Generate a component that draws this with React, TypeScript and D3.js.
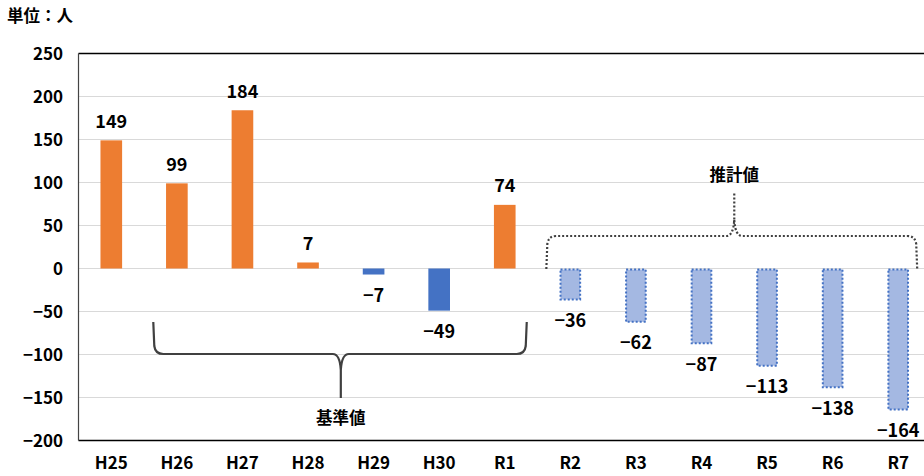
import React from "react";
import * as d3 from "d3";

const categories = ["H25", "H26", "H27", "H28", "H29", "H30", "R1", "R2", "R3", "R4", "R5", "R6", "R7"];
const values = [149, 99, 184, 7, -7, -49, 74, -36, -62, -87, -113, -138, -164];
const estimated = [false, false, false, false, false, false, false, true, true, true, true, true, true];
const yTicks = [250, 200, 150, 100, 50, 0, -50, -100, -150, -200];
const unitLabel = "単位：人";
const baseLabel = "基準値";
const estLabel = "推計値";

const W = 924;
const H = 476;
const FONT = "'Noto Sans CJK JP', 'Noto Sans', sans-serif";

const fmt = (v: number) => (v < 0 ? "\u2212" + Math.abs(v) : String(v));

function bracePath(x1: number, x2: number, yEnd: number, yBar: number, yTip: number, xc: number) {
  const dir = yTip > yBar ? 1 : -1;
  const r = 8 * dir;
  return [
    `M${x1},${yEnd}`,
    `L${x1 + 1},${yBar - r}`,
    `Q${x1 + 2},${yBar} ${x1 + 10},${yBar}`,
    `L${xc - 8},${yBar}`,
    `Q${xc - 1},${yBar} ${xc},${yBar + r * 2}`,
    `L${xc},${yTip}`,
    `M${xc},${yBar + r * 2}`,
    `Q${xc + 1},${yBar} ${xc + 8},${yBar}`,
    `L${x2 - 10},${yBar}`,
    `Q${x2 - 2},${yBar} ${x2 - 1},${yBar - r}`,
    `L${x2},${yEnd}`,
  ].join(" ");
}

export default function App() {
  const x = d3.scaleBand<string>().domain(categories).range([78.5, 931]).paddingInner(0.67).paddingOuter(0.335);
  const y = d3.scaleLinear().domain([-200, 250]).range([440.5, 53.5]);
  const bw = x.bandwidth();
  const cx = (c: string) => (x(c) as number) + bw / 2;
  const y0 = y(0);

  const baseX1 = cx("H25") + 42;
  const baseX2 = cx("R1") + 22;
  const baseXc = (cx("H28") + cx("H29")) / 2;
  const estX1 = cx("R2") - 24;
  const estX2 = cx("R7") + 19;
  const estXc = (cx("R4") + cx("R5")) / 2;

  return (
    <div style={{ position: "absolute", left: 0, top: 0, width: W, height: H, background: "#fff" }}>
      <svg width={W} height={H} style={{ display: "block", fontFamily: FONT }}>
        <rect x={0} y={0} width={W} height={H} fill="#fff" />
        {yTicks.map((t) => (
          <line key={"g" + t} x1={78.5} x2={W} y1={y(t)} y2={y(t)} stroke="#d9d9d9" strokeWidth={1.2} />
        ))}
        <line x1={78.5} x2={W} y1={y(250)} y2={y(250)} stroke="#000" strokeWidth={1.5} />
        <line x1={78.5} x2={W} y1={y(-200)} y2={y(-200)} stroke="#000" strokeWidth={1.5} />
        <line x1={78.5} x2={78.5} y1={y(250)} y2={y(-200)} stroke="#444" strokeWidth={1.2} />
        {yTicks.map((t) => (
          <text key={"t" + t} x={63} y={y(t)} dy="0.36em" textAnchor="end" fontSize={17} fontWeight={700} fill="#000">
            {fmt(t)}
          </text>
        ))}
        {categories.map((c) => (
          <text key={"x" + c} x={cx(c)} y={463} dy="0.36em" textAnchor="middle" fontSize={17} fontWeight={700} fill="#000">
            {c}
          </text>
        ))}
        {categories.map((c, i) => {
          const v = values[i];
          const top = Math.min(y(v), y0);
          const h = Math.abs(y(v) - y0);
          if (estimated[i]) {
            return (
              <rect key={"b" + c} x={x(c)! + 1} y={top + 1} width={bw - 2} height={h - 1} fill="#a4b8e2" stroke="#4472c4" strokeWidth={2} strokeDasharray="2 2" />
            );
          }
          return <rect key={"b" + c} x={x(c)} y={top} width={bw} height={h} fill={v >= 0 ? "#ed7d31" : "#4472c4"} />;
        })}
        {categories.map((c, i) => {
          const v = values[i];
          const ly = v >= 0 ? y(v) - 19 : y(v) + 21;
          return (
            <text key={"l" + c} x={cx(c)} y={ly} dy="0.36em" textAnchor="middle" fontSize={18} fontWeight={700} fill="#000">
              {fmt(v)}
            </text>
          );
        })}
        <path d={bracePath(baseX1, baseX2, 322, 354, 398, baseXc)} fill="none" stroke="#404040" strokeWidth={2.2} />
        <text x={baseXc} y={418} dy="0.36em" textAnchor="middle" fontSize={16.5} fontWeight={700} fill="#000">
          {baseLabel}
        </text>
        <path d={bracePath(estX1, estX2, 269, 236, 192, estXc)} fill="none" stroke="#404040" strokeWidth={2.2} strokeDasharray="2 2" />
        <text x={estXc} y={175} dy="0.36em" textAnchor="middle" fontSize={16.5} fontWeight={700} fill="#000">
          {estLabel}
        </text>
        <text x={7} y={16} dy="0.36em" textAnchor="start" fontSize={16.5} fontWeight={700} fill="#000">
          {unitLabel}
        </text>
      </svg>
    </div>
  );
}
